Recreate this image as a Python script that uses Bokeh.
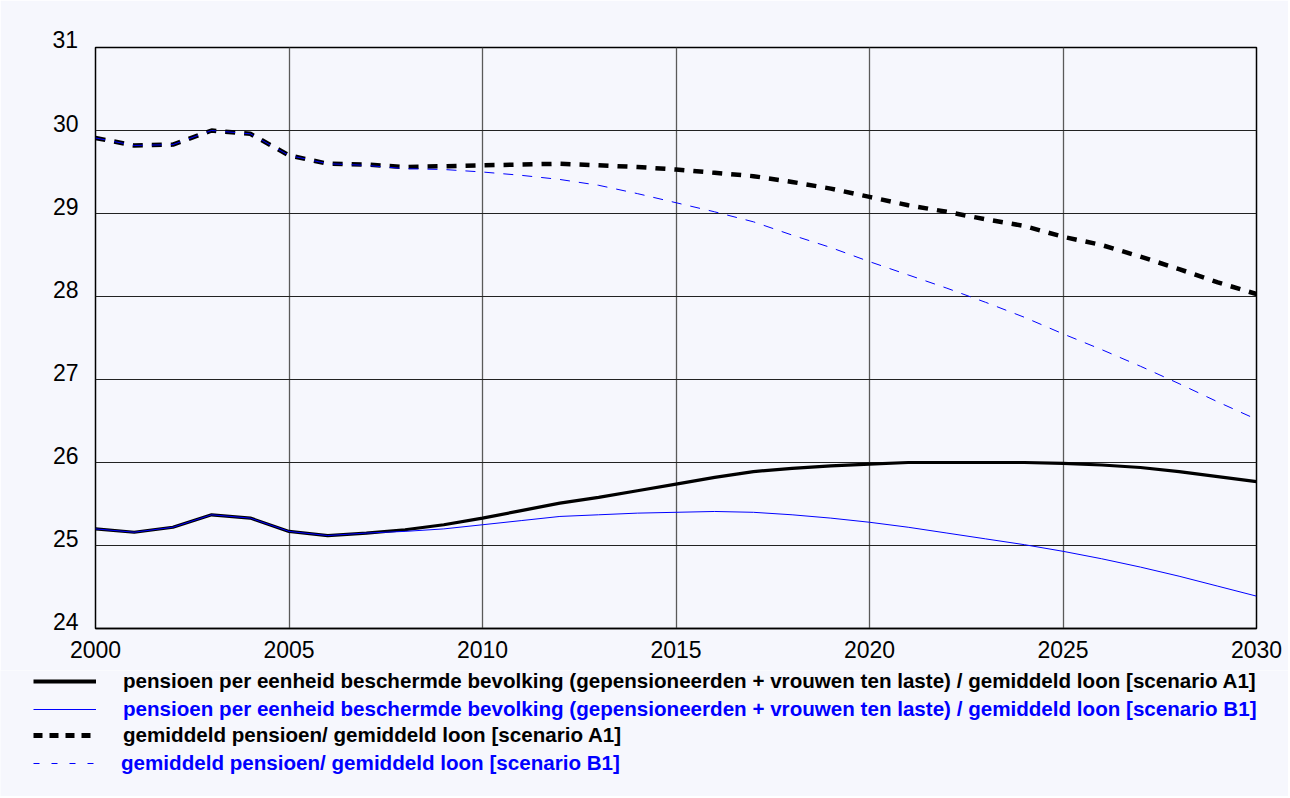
from bokeh.plotting import figure
from bokeh.models import Range1d, FixedTicker, Legend, LegendItem, LinearAxis
from bokeh.layouts import column, row
from bokeh.embed import file_html
from bokeh.resources import INLINE

years = list(range(2000, 2031))

a1_per_unit = [25.20, 25.16, 25.22, 25.37, 25.33, 25.17, 25.12, 25.15, 25.19, 25.25,
               25.33, 25.42, 25.51, 25.58, 25.66, 25.74, 25.82, 25.89, 25.93, 25.96,
               25.98, 26.00, 26.00, 26.00, 26.00, 25.99, 25.97, 25.94, 25.89, 25.83, 25.77]
b1_per_unit = [25.20, 25.16, 25.22, 25.37, 25.33, 25.17, 25.12, 25.15, 25.17, 25.20,
               25.25, 25.30, 25.35, 25.37, 25.39, 25.40, 25.41, 25.40, 25.37, 25.33,
               25.28, 25.22, 25.15, 25.08, 25.01, 24.93, 24.84, 24.74, 24.63, 24.51, 24.39]
a1_avg = [29.91, 29.82, 29.83, 30.00, 29.96, 29.70, 29.60, 29.59, 29.56, 29.57,
          29.58, 29.59, 29.60, 29.58, 29.56, 29.53, 29.49, 29.45, 29.38, 29.30,
          29.20, 29.10, 29.02, 28.93, 28.85, 28.72, 28.62, 28.48, 28.33, 28.17, 28.03]
b1_avg = [29.91, 29.82, 29.83, 30.00, 29.96, 29.70, 29.60, 29.58, 29.54, 29.53,
          29.50, 29.46, 29.41, 29.34, 29.24, 29.13, 29.02, 28.90, 28.74, 28.59,
          28.42, 28.26, 28.10, 27.93, 27.75, 27.55, 27.36, 27.16, 26.95, 26.73, 26.52]

x_ticks = [2000, 2005, 2010, 2015, 2020, 2025, 2030]
y_ticks = [24, 25, 26, 27, 28, 29, 30, 31]

labels = [
    "pensioen per eenheid beschermde bevolking (gepensioneerden + vrouwen ten laste) / gemiddeld loon [scenario A1]",
    "pensioen per eenheid beschermde bevolking (gepensioneerden + vrouwen ten laste) / gemiddeld loon [scenario B1]",
    "gemiddeld pensioen/ gemiddeld loon [scenario A1]",
    "gemiddeld pensioen/ gemiddeld loon [scenario B1]",
]

BG = "#f6f7fd"
FONT = "Liberation Sans"
W = 1288
Y0, Y1 = 24, 31
LABEL_SHIFT = 0.084  # tick labels sit on top of their grid line

p = figure(width=W, height=670, output_backend="svg", toolbar_location=None,
           x_range=Range1d(2000, 2030), y_range=Range1d(Y0, Y1),
           min_border_left=95, min_border_right=32, min_border_top=47, min_border_bottom=42)
p.background_fill_color = BG
p.border_fill_color = BG
p.outline_line_color = "black"
p.outline_line_width = 1.5

# top tick label (outside the frame) carried by the title slot
p.title.text = str(y_ticks[-1])
p.title.align = "left"
p.title.offset = -43
p.title.standoff = 0
p.title.text_font = FONT
p.title.text_font_size = "23px"
p.title.text_font_style = "normal"
p.title.text_color = "black"

p.xaxis.ticker = FixedTicker(ticks=x_ticks)
p.xaxis.major_tick_line_color = None
p.xaxis.minor_tick_line_color = None
p.xaxis.major_tick_out = 0
p.xaxis.major_tick_in = 0
p.xaxis.major_label_text_font = FONT
p.xaxis.major_label_text_font_size = "23px"
p.xaxis.major_label_text_color = "black"
p.xaxis.axis_line_color = "black"
p.xaxis.axis_line_width = 1.5
p.xaxis.major_label_standoff = 12

p.yaxis.visible = False
p.extra_y_ranges = {"lab": Range1d(Y0 - LABEL_SHIFT, Y1 - LABEL_SHIFT)}
yax = LinearAxis(y_range_name="lab", ticker=FixedTicker(ticks=y_ticks[:-1]))
yax.axis_line_color = None
yax.major_tick_line_color = None
yax.minor_tick_line_color = None
yax.major_tick_out = 0
yax.major_tick_in = 0
yax.major_label_standoff = 17
yax.major_label_text_font = FONT
yax.major_label_text_font_size = "23px"
yax.major_label_text_color = "black"
p.add_layout(yax, "left")

p.ygrid.ticker = FixedTicker(ticks=y_ticks)
p.xgrid.ticker = FixedTicker(ticks=x_ticks)
p.xgrid.grid_line_color = "#5a5a5a"
p.xgrid.grid_line_width = 1.3
p.ygrid.grid_line_color = "#222222"
p.ygrid.grid_line_width = 1.0

p.line(years, a1_per_unit, line_color="black", line_width=3.2)
p.line(years, b1_per_unit, line_color="#0000ff", line_width=1)
p.line(years, a1_avg, line_color="black", line_width=4.5, line_dash="10 9")
p.line(years, b1_avg, line_color="#0000ff", line_width=1, line_dash="10 9")

# legend panel
q = figure(width=W, height=126, output_backend="svg", toolbar_location=None,
           x_range=Range1d(0, 1), y_range=Range1d(0, 1),
           x_axis_type=None, y_axis_type=None,
           min_border_left=0, min_border_right=0, min_border_top=0, min_border_bottom=0)
q.background_fill_color = BG
q.border_fill_color = BG
q.outline_line_color = None
q.grid.visible = False

styles = [
    dict(line_color="black", line_width=4),
    dict(line_color="#0000ff", line_width=1),
    dict(line_color="black", line_width=5, line_dash="9 7"),
    dict(line_color="#0000ff", line_width=1, line_dash="6 12"),
]
text_colors = ["black", "#0000ff", "black", "#0000ff"]
y_locs = [103, 75, 49, 21]
standoffs = [27, 27, 27, 25]

for lab, st, col, yl, so in zip(labels, styles, text_colors, y_locs, standoffs):
    r = q.line([-5, -4], [-5, -4], **st)  # off-screen; only drawn as legend swatch
    lg = Legend(items=[LegendItem(label=lab, renderers=[r])], location=(33, yl),
                orientation="vertical", glyph_width=63, glyph_height=20,
                label_standoff=so, padding=0, margin=0, spacing=0,
                border_line_color=None, background_fill_alpha=0,
                label_text_font=FONT, label_text_font_size="20.6px",
                label_text_font_style="bold", label_text_color=col)
    q.add_layout(lg, "center")

layout = column(p, row(q), spacing=0)
open("out.html", "w").write(file_html(layout, INLINE))
